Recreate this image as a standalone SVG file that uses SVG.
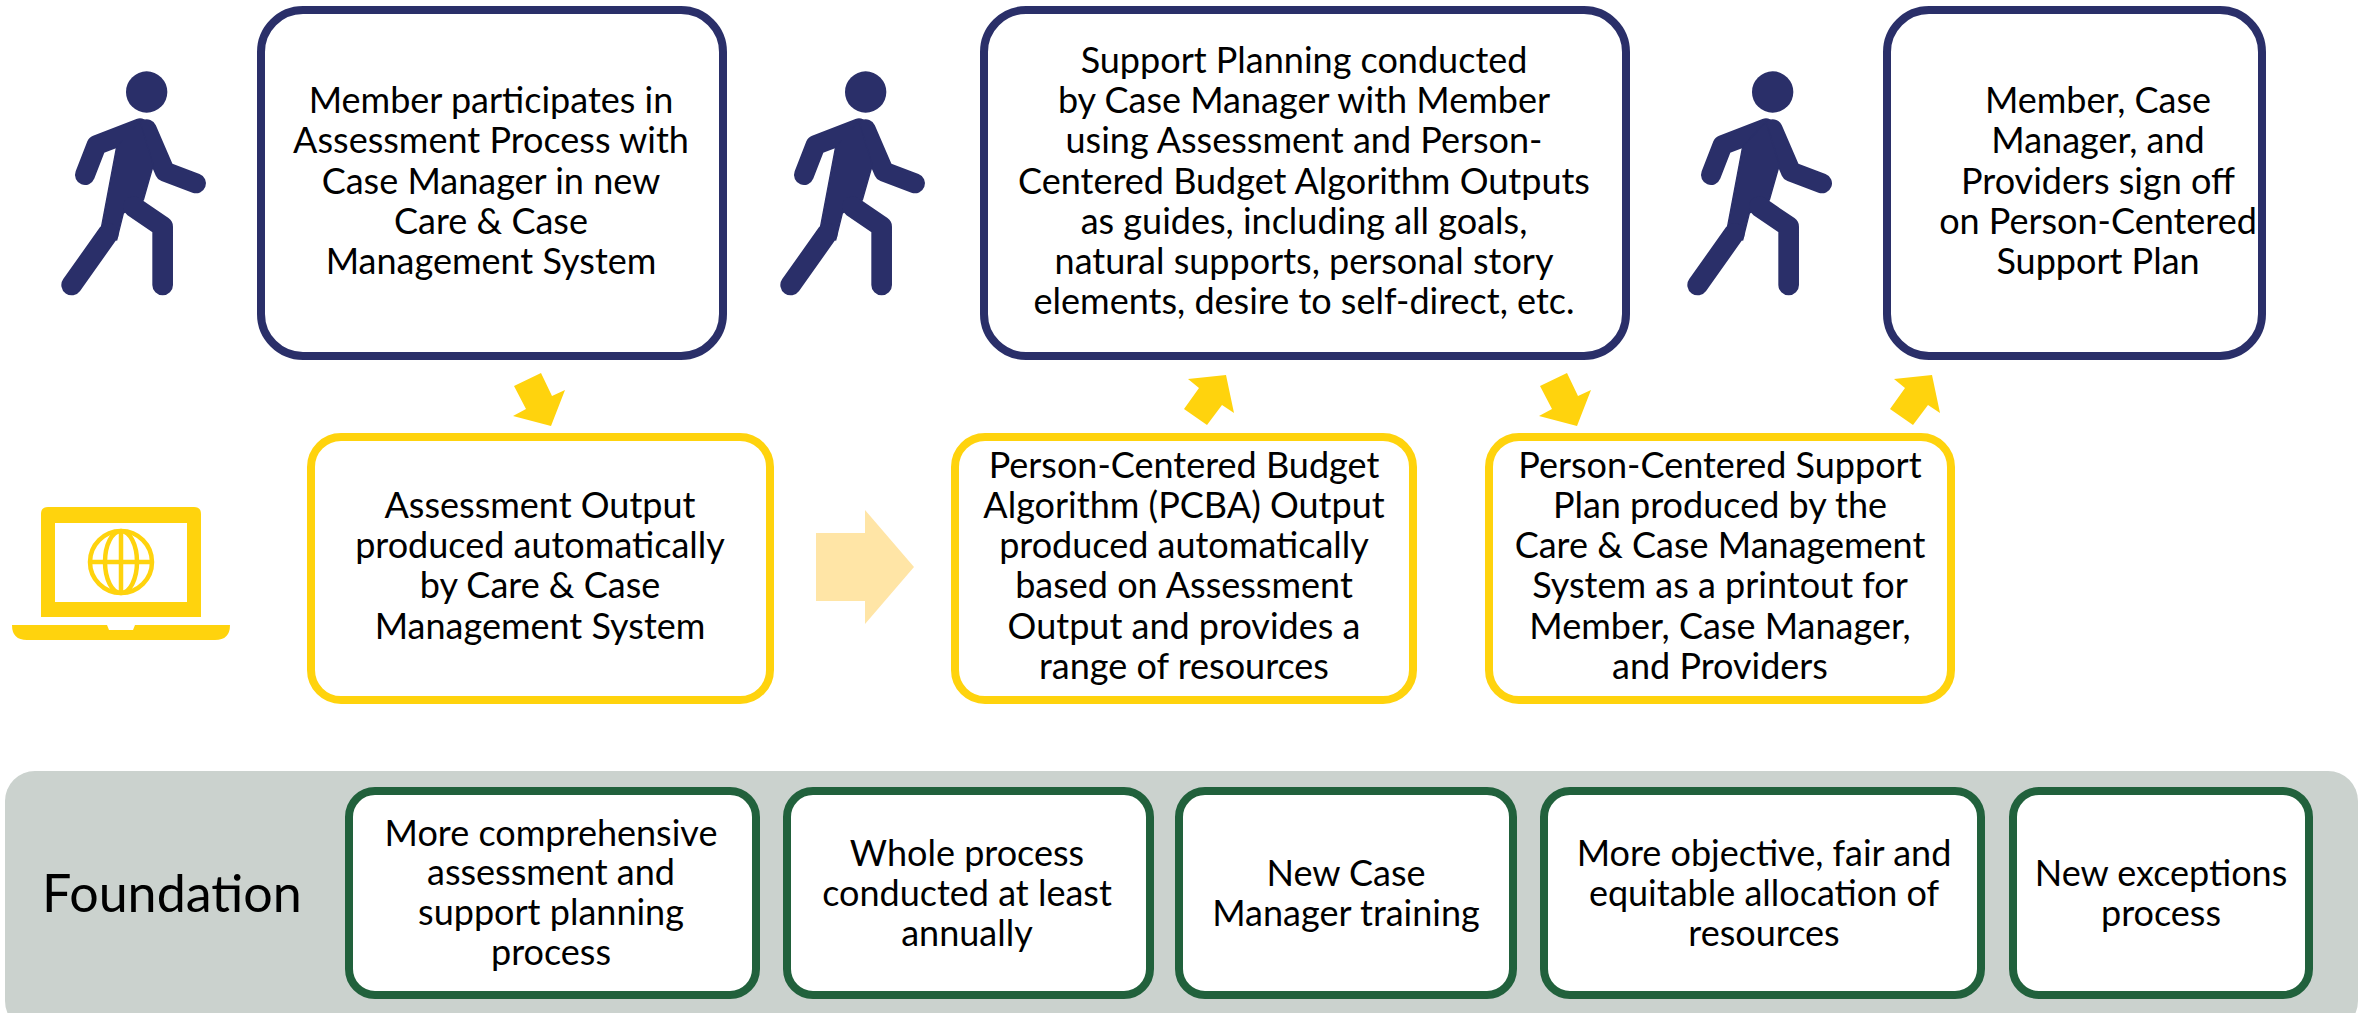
<svg xmlns="http://www.w3.org/2000/svg" xmlns:xlink="http://www.w3.org/1999/xlink" width="2374" height="1013" viewBox="0 0 2374 1013">
<style>
text{font-family:"Lato","Liberation Sans",sans-serif;font-size:36px;fill:#000;text-anchor:middle}
.navy{fill:#fff;stroke:#2a2f69;stroke-width:8}
.yel{fill:#fff;stroke:#ffd30d;stroke-width:8}
.grn{fill:#fff;stroke:#21613c;stroke-width:8}
.arw{fill:#ffd30d}
</style>
<defs>
<g id="walker" fill="#2a2f69" stroke="#2a2f69" stroke-linecap="round" stroke-linejoin="round">
<circle cx="320" cy="126" r="62" stroke="none"/>
<path d="M135 375L170 285L300 235" fill="none" stroke-width="60"/>
<path d="M320 238L375 365L468 400" fill="none" stroke-width="60"/>
<path d="M230 290L300 215L340 345L310 450L250 490L230 570L180 555Z" stroke-width="4"/>
<path d="M280 470L368 530L368 705" fill="none" stroke-width="62"/>
<path d="M205 550L95 705" fill="none" stroke-width="62"/>
</g>
</defs>
<rect width="2374" height="1013" fill="#fff"/>
<g id="icons">
<use id="walker1" xlink:href="#walker" href="#walker" transform="translate(40,50) scale(.3333)"/>
<use id="walker2" xlink:href="#walker" href="#walker" transform="translate(759,50) scale(.3333)"/>
<use id="walker3" xlink:href="#walker" href="#walker" transform="translate(1666,50) scale(.3333)"/>
<g id="laptop" fill="#ffd30d">
<path fill-rule="evenodd" d="M48 507H194Q201 507 201 514V617H41V514Q41 507 48 507ZM55 523V602H187V523Z"/>
<path d="M12 625H107L109 630H133L135 625H230Q230 640 215 640H27Q12 640 12 625Z"/>
<g fill="none" stroke="#ffd30d" stroke-width="4.5">
<circle cx="121" cy="562" r="31"/>
<ellipse cx="121" cy="562" rx="16" ry="31"/>
<path d="M121 531V593M90 562H152"/>
</g>
</g>
</g>
<g id="connectors">
<path class="arw" d="M541 373L552 396L565 390L551 426L513 416L526 409L514 386Z"/>
<path class="arw" d="M1226 375L1234 413L1222 405L1207 425L1184 409L1199 388L1188 379Z"/>
<path class="arw" d="M1567 373L1578 396L1591 390L1577 426L1539 416L1552 409L1540 386Z"/>
<path class="arw" d="M1932 375L1940 413L1928 405L1913 425L1890 409L1905 388L1894 379Z"/>
<path fill="#ffe5a6" d="M816 533H865V510L914 567L865 624V601H816Z"/>
</g>
<g id="n1"><rect class="navy" x="261" y="10" width="462" height="346" rx="42"/>
<text x="491" y="113">Member participates in</text><text x="491" y="153">Assessment Process with</text><text x="491" y="194">Case Manager in new</text><text x="491" y="234">Care &amp; Case</text><text x="491" y="274">Management System</text></g>
<g id="n2"><rect class="navy" x="984" y="10" width="642" height="346" rx="42"/>
<text x="1304" y="73">Support Planning conducted</text><text x="1304" y="113">by Case Manager with Member</text><text x="1304" y="153">using Assessment and Person-</text><text x="1304" y="194">Centered Budget Algorithm Outputs</text><text x="1304" y="234">as guides, including all goals,</text><text x="1304" y="274">natural supports, personal story</text><text x="1304" y="314">elements, desire to self-direct, etc.</text></g>
<g id="n3"><rect class="navy" x="1887" y="10" width="375" height="346" rx="42"/>
<text x="2098" y="113">Member, Case</text><text x="2098" y="153">Manager, and</text><text x="2098" y="194">Providers sign off</text><text x="2098" y="234">on Person-Centered</text><text x="2098" y="274">Support Plan</text></g>
<g id="n4"><rect class="yel" x="311" y="437" width="459" height="263" rx="30"/>
<text x="540" y="518">Assessment Output</text><text x="540" y="558">produced automatically</text><text x="540" y="598">by Care &amp; Case</text><text x="540" y="639">Management System</text></g>
<g id="n5"><rect class="yel" x="955" y="437" width="458" height="263" rx="30"/>
<text x="1184" y="478">Person-Centered Budget</text><text x="1184" y="518">Algorithm (PCBA) Output</text><text x="1184" y="558">produced automatically</text><text x="1184" y="598">based on Assessment</text><text x="1184" y="639">Output and provides a</text><text x="1184" y="679">range of resources</text></g>
<g id="n6"><rect class="yel" x="1489" y="437" width="462" height="263" rx="30"/>
<text x="1720" y="478">Person-Centered Support</text><text x="1720" y="518">Plan produced by the</text><text x="1720" y="558">Care &amp; Case Management</text><text x="1720" y="598">System as a printout for</text><text x="1720" y="639">Member, Case Manager,</text><text x="1720" y="679">and Providers</text></g>
<g id="foundation"><rect x="5" y="771" width="2353" height="260" rx="30" fill="#cbd2ce"/>
<text x="42" y="912" style="font-size:52px;text-anchor:start">Foundation</text></g>
<g id="f1"><rect class="grn" x="349" y="791" width="407" height="204" rx="26"/>
<text x="551" y="846">More comprehensive</text><text x="551" y="885">assessment and</text><text x="551" y="925">support planning</text><text x="551" y="965">process</text></g>
<g id="f2"><rect class="grn" x="787" y="791" width="363" height="204" rx="26"/>
<text x="967" y="866">Whole process</text><text x="967" y="906">conducted at least</text><text x="967" y="946">annually</text></g>
<g id="f3"><rect class="grn" x="1179" y="791" width="334" height="204" rx="26"/>
<text x="1346" y="886">New Case</text><text x="1346" y="926">Manager training</text></g>
<g id="f4"><rect class="grn" x="1544" y="791" width="437" height="204" rx="26"/>
<text x="1764" y="866">More objective, fair and</text><text x="1764" y="906">equitable allocation of</text><text x="1764" y="946">resources</text></g>
<g id="f5"><rect class="grn" x="2013" y="791" width="296" height="204" rx="26"/>
<text x="2161" y="886">New exceptions</text><text x="2161" y="926">process</text></g>
</svg>
